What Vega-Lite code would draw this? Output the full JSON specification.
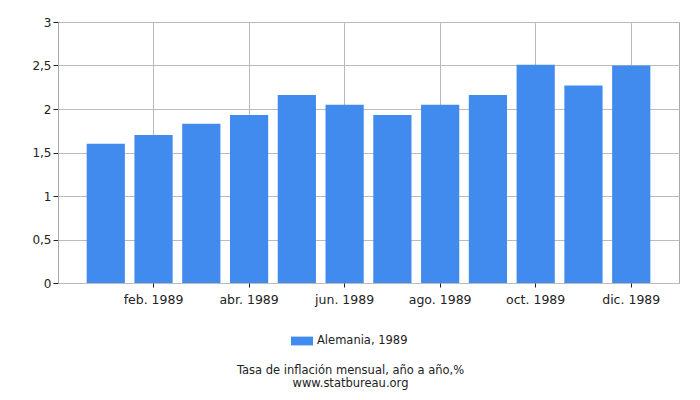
{
  "$schema": "https://vega.github.io/schema/vega-lite/v6.json",
  "autosize": "none",
  "width": 621,
  "height": 261,
  "padding": {"left": 58, "top": 22, "right": 21, "bottom": 117},
  "background": "white",
  "title": {
    "text": ["Tasa de inflación mensual, año a año,%", "www.statbureau.org"],
    "orient": "bottom",
    "anchor": "middle",
    "dx": -18,
    "offset": 18,
    "fontSize": 11.5,
    "fontWeight": "normal",
    "font": "DejaVu Sans",
    "lineHeight": 12.5,
    "color": "#222222"
  },
  "data": {
    "values": [
      {"mes": "ene. 1989", "serie": "Alemania, 1989", "valor": 1.60},
      {"mes": "feb. 1989", "serie": "Alemania, 1989", "valor": 1.70},
      {"mes": "mar. 1989", "serie": "Alemania, 1989", "valor": 1.83},
      {"mes": "abr. 1989", "serie": "Alemania, 1989", "valor": 1.93},
      {"mes": "may. 1989", "serie": "Alemania, 1989", "valor": 2.16},
      {"mes": "jun. 1989", "serie": "Alemania, 1989", "valor": 2.05},
      {"mes": "jul. 1989", "serie": "Alemania, 1989", "valor": 1.93},
      {"mes": "ago. 1989", "serie": "Alemania, 1989", "valor": 2.05},
      {"mes": "sep. 1989", "serie": "Alemania, 1989", "valor": 2.16},
      {"mes": "oct. 1989", "serie": "Alemania, 1989", "valor": 2.51},
      {"mes": "nov. 1989", "serie": "Alemania, 1989", "valor": 2.27},
      {"mes": "dic. 1989", "serie": "Alemania, 1989", "valor": 2.50}
    ]
  },
  "mark": {"type": "bar"},
  "encoding": {
    "x": {
      "field": "mes",
      "type": "ordinal",
      "sort": null,
      "scale": {"paddingInner": 0.2, "paddingOuter": 0.6},
      "axis": {
        "title": null,
        "values": ["feb. 1989", "abr. 1989", "jun. 1989", "ago. 1989", "oct. 1989", "dic. 1989"],
        "bandPosition": 0.5,
        "labelAngle": 0,
        "labelFont": "DejaVu Sans",
        "labelFontSize": 12.5,
        "labelColor": "#222222",
        "labelPadding": 6,
        "tickColor": "#222222",
        "tickSize": 4,
        "domain": false,
        "grid": true,
        "gridColor": "#bbbbbb"
      }
    },
    "y": {
      "field": "valor",
      "type": "quantitative",
      "scale": {"domain": [0, 3], "nice": false},
      "axis": {
        "title": null,
        "values": [0, 0.5, 1, 1.5, 2, 2.5, 3],
        "labelExpr": "replace(toString(datum.value), '.', ',')",
        "labelFont": "DejaVu Sans",
        "labelFontSize": 12,
        "labelColor": "#222222",
        "labelPadding": 2,
        "tickColor": "#222222",
        "tickSize": 5,
        "domainColor": "#aaaaaa",
        "gridColor": "#bbbbbb"
      }
    },
    "color": {
      "field": "serie",
      "type": "nominal",
      "scale": {"range": ["#428bee"]},
      "legend": {
        "title": null,
        "orient": "none",
        "legendX": 233,
        "legendY": 308,
        "symbolType": "M-1,-0.4L1,-0.4L1,0.4L-1,0.4Z",
        "symbolSize": 484,
        "symbolStrokeWidth": 0,
        "labelFont": "DejaVu Sans",
        "labelFontSize": 11.5,
        "labelColor": "#222222"
      }
    }
  },
  "config": {
    "view": {"stroke": "#aaaaaa"}
  }
}
